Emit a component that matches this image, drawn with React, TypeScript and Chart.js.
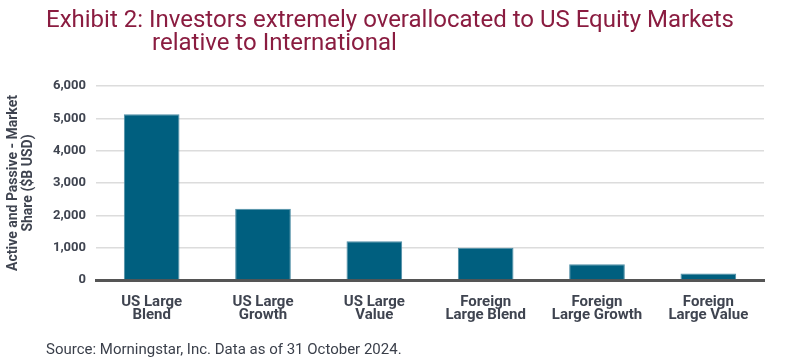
import React, { useEffect, useRef } from "react";
import { Chart, registerables } from "chart.js";

Chart.register(...registerables);

const categories: string[][] = [
  ["US Large", "Blend"],
  ["US Large", "Growth"],
  ["US Large", "Value"],
  ["Foreign", "Large Blend"],
  ["Foreign", "Large Growth"],
  ["Foreign", "Large Value"],
];
const values: number[] = [5130, 2200, 1200, 1000, 490, 200];
const yTitle: string[] = ["Active and Passive - Market", "Share ($B USD)"];
const titleLine1 = "Exhibit 2: Investors extremely overallocated to US Equity Markets";
const titleLine2 = "relative to International";
const sourceText = "Source: Morningstar, Inc. Data as of 31 October 2024.";

const FONT = "Roboto, 'DejaVu Sans', sans-serif";

export default function App() {
  const ref = useRef<HTMLCanvasElement | null>(null);
  useEffect(() => {
    if (!ref.current) return;
    const chart = new Chart(ref.current, {
      type: "bar",
      data: {
        labels: categories,
        datasets: [
          {
            data: values,
            backgroundColor: "#005f7f",
            borderColor: "#4f8ea6",
            borderWidth: 1,
            barPercentage: 0.5,
            categoryPercentage: 1,
          },
        ],
      },
      options: {
        animation: false,
        responsive: false,
        maintainAspectRatio: false,
        layout: { padding: { top: 86, right: 36, bottom: 0, left: 6 } },
        plugins: { legend: { display: false }, tooltip: { enabled: false } },
        scales: {
          x: {
            grid: { display: false },
            border: { display: true, color: "#555555", width: 3 },
            ticks: {
              color: "#3f4450",
              font: { family: FONT, size: 15, weight: "bold", lineHeight: 0.87 },
              maxRotation: 0,
              padding: 8,
            },
            afterFit: (s: any) => {
              s.height = 84;
            },
          },
          y: {
            min: 0,
            max: 6000,
            ticks: {
              stepSize: 1000,
              color: "#3f4450",
              font: { family: FONT, size: 13, weight: "bold" },
              padding: 10,
              callback: (v: any) => Number(v).toLocaleString("en-US"),
            },
            grid: { color: "#dcdcdc", lineWidth: 1.5, drawTicks: false },
            border: { display: false },
            title: {
              display: true,
              text: yTitle,
              color: "#3f4450",
              font: { family: FONT, size: 14, weight: "bold", lineHeight: 1.05 },
              padding: 0,
            },
            afterFit: (s: any) => {
              s.width = 90;
            },
          },
        },
      },
    });
    return () => chart.destroy();
  }, []);

  const titleStyle: React.CSSProperties = {
    position: "absolute",
    fontSize: 24,
    lineHeight: "24px",
    color: "#8a1c40",
    whiteSpace: "nowrap",
  };

  return (
    <div style={{ position: "fixed", left: 0, top: 0, width: 800, height: 364, background: "#fff", fontFamily: FONT }}>
      <canvas ref={ref} width={800} height={364} style={{ position: "absolute", left: 0, top: 0 }} />
      <div style={{ ...titleStyle, left: 46, top: 7 }}>{titleLine1}</div>
      <div style={{ ...titleStyle, left: 152, top: 30 }}>{titleLine2}</div>
      <div style={{ position: "absolute", left: 46, top: 340, fontSize: 15, lineHeight: "18px", color: "#3a3f4a", whiteSpace: "nowrap" }}>
        {sourceText}
      </div>
    </div>
  );
}
